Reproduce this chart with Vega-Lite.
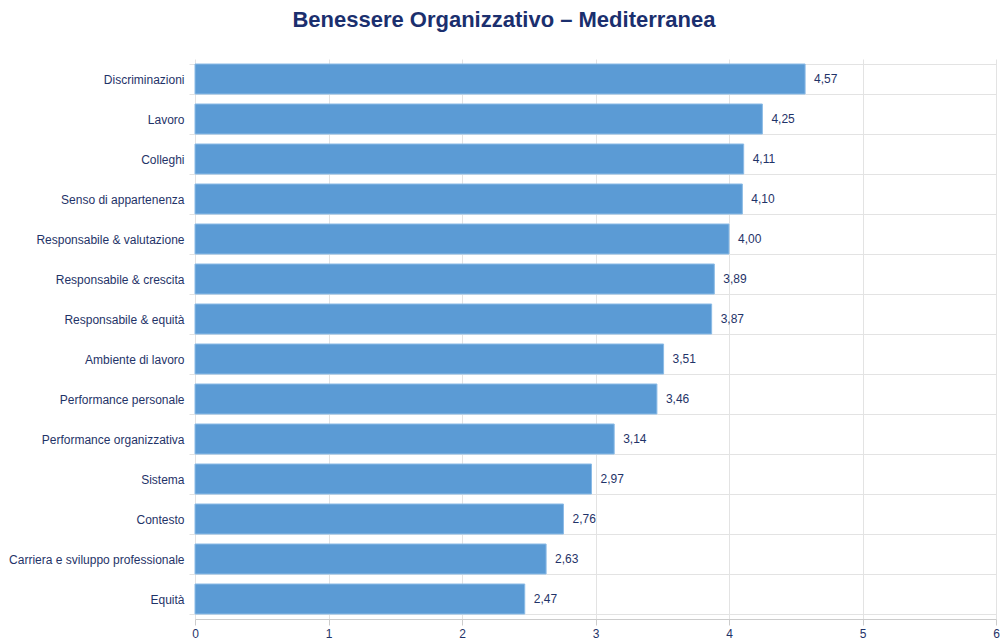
{
  "$schema": "https://vega.github.io/schema/vega-lite/v6.json",
  "width": 801,
  "height": 560,
  "autosize": {"type": "none"},
  "padding": {"left": 195, "top": 59, "right": 4, "bottom": 22},
  "background": "white",
  "title": {
    "text": "Benessere Organizzativo – Mediterranea",
    "fontSize": 22,
    "fontWeight": "bold",
    "font": "Liberation Sans",
    "color": "#1b2f6e",
    "anchor": "middle",
    "frame": "bounds",
    "offset": 21
  },
  "config": {
    "locale": {"number": {"decimal": ",", "thousands": ".", "grouping": [3], "currency": ["€", ""]}},
    "view": {"stroke": null},
    "font": "Liberation Sans"
  },
  "data": {
    "values": [
      {"categoria": "Discriminazioni", "valore": 4.57},
      {"categoria": "Lavoro", "valore": 4.25},
      {"categoria": "Colleghi", "valore": 4.11},
      {"categoria": "Senso di appartenenza", "valore": 4.10},
      {"categoria": "Responsabile & valutazione", "valore": 4.00},
      {"categoria": "Responsabile & crescita", "valore": 3.89},
      {"categoria": "Responsabile & equità", "valore": 3.87},
      {"categoria": "Ambiente di lavoro", "valore": 3.51},
      {"categoria": "Performance personale", "valore": 3.46},
      {"categoria": "Performance organizzativa", "valore": 3.14},
      {"categoria": "Sistema", "valore": 2.97},
      {"categoria": "Contesto", "valore": 2.76},
      {"categoria": "Carriera e sviluppo professionale", "valore": 2.63},
      {"categoria": "Equità", "valore": 2.47}
    ]
  },
  "encoding": {
    "y": {
      "field": "categoria",
      "type": "nominal",
      "sort": null,
      "scale": {"paddingInner": 0.25, "paddingOuter": 0.125},
      "axis": {
        "title": null,
        "tickBand": "extent",
        "grid": true,
        "gridColor": "#e3e3e3",
        "tickColor": "#e3e3e3",
        "tickSize": 6,
        "domain": false,
        "labelColor": "#1f3368",
        "labelFontSize": 12,
        "labelPadding": 5,
        "labelLimit": 300
      }
    },
    "x": {
      "field": "valore",
      "type": "quantitative",
      "scale": {"domain": [0, 6], "nice": false},
      "axis": {
        "title": null,
        "values": [0, 1, 2, 3, 4, 5, 6],
        "format": "d",
        "labelFlush": false,
        "grid": true,
        "gridColor": "#e3e3e3",
        "domainColor": "#cccccc",
        "tickColor": "#cccccc",
        "tickSize": 6,
        "labelColor": "#1f3368",
        "labelFontSize": 12,
        "labelPadding": 3
      }
    }
  },
  "layer": [
    {
      "mark": {"type": "bar", "color": "#5b9bd5", "stroke": "#8bbbe6", "strokeWidth": 1}
    },
    {
      "mark": {"type": "text", "align": "left", "dx": 9, "fontSize": 12, "color": "#1f3368"},
      "encoding": {"text": {"field": "valore", "type": "quantitative", "format": ".2f"}}
    }
  ]
}
